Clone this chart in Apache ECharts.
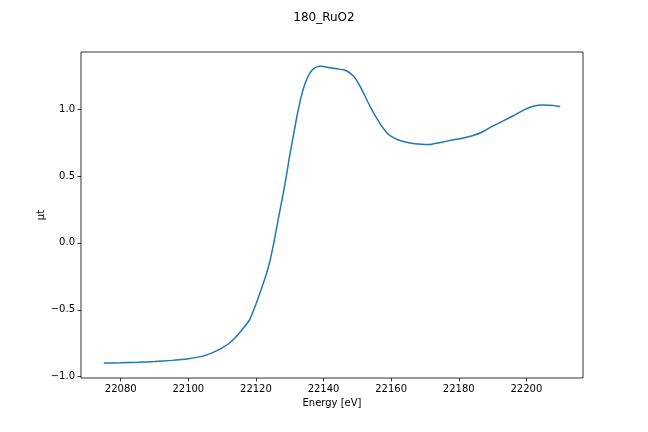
<!DOCTYPE html>
<html>
<head>
<meta charset="utf-8">
<script src="https://cdn.jsdelivr.net/npm/echarts@6/dist/echarts.min.js"></script>
<style>
  html, body { margin: 0; padding: 0; background: #fff; }
  #chart { width: 648px; height: 432px; }
</style>
</head>
<body>
<div id="chart"></div>
<script>
// energy [eV] and absorption
var energy = [22075, 22080, 22085, 22090, 22095, 22100, 22104, 22107, 22110, 22112,
  22114, 22116, 22118, 22119, 22120, 22121, 22122, 22123, 22124, 22125, 22126,
  22127, 22128, 22129, 22130, 22131, 22132, 22133, 22134, 22135, 22136,
  22137, 22138, 22139, 22140, 22142, 22144, 22146, 22147, 22148, 22149,
  22150, 22151, 22152, 22153, 22154, 22155, 22156, 22157, 22158, 22159,
  22160, 22162, 22164, 22166, 22168, 22170, 22172, 22175, 22178, 22181,
  22184, 22187, 22190, 22193, 22196, 22199, 22202, 22205, 22208, 22210];
var mut = [-0.898, -0.896, -0.892, -0.887, -0.878, -0.865, -0.848, -0.822, -0.785, -0.752,
  -0.705, -0.645, -0.580, -0.522, -0.458, -0.388, -0.315, -0.240, -0.150, -0.035, 0.095,
  0.230, 0.360, 0.500, 0.655, 0.790, 0.930, 1.050, 1.150, 1.220, 1.270,
  1.300, 1.315, 1.320, 1.318, 1.308, 1.300, 1.293, 1.282, 1.265, 1.242,
  1.205, 1.160, 1.110, 1.058, 1.008, 0.962, 0.920, 0.880, 0.845, 0.815,
  0.795, 0.770, 0.755, 0.745, 0.738, 0.735, 0.737, 0.752, 0.768, 0.782,
  0.800, 0.828, 0.872, 0.910, 0.948, 0.990, 1.020, 1.030, 1.027, 1.018];
var xTicks = [22080, 22100, 22120, 22140, 22160, 22180, 22200];
var yTicks = [-1.0, -0.5, 0.0, 0.5, 1.0];

var font = 'DejaVu Sans';
var chart = echarts.init(document.getElementById('chart'));

var pts = [];
for (var i = 0; i < energy.length; i++) {
  pts.push([energy[i], mut[i]]);
}

chart.setOption({
  animation: false,
  backgroundColor: '#ffffff',
  title: {
    text: '180_RuO2',
    left: 'center',
    top: 7,
    textStyle: { fontFamily: font, fontSize: 12, fontWeight: 'normal', color: '#000' }
  },
  grid: {
    left: 81, right: 65, top: 52, bottom: 54,
    show: true, borderColor: '#000', borderWidth: 0.8
  },
  xAxis: {
    type: 'value',
    min: 22068.25,
    max: 22216.75,
    name: 'Energy [eV]',
    nameLocation: 'middle',
    nameGap: 20,
    nameMoveOverlap: false,
    nameTextStyle: { fontFamily: font, fontSize: 10, color: '#000' },
    axisLine: { show: false, onZero: false },
    axisTick: { show: true, length: 3.5, customValues: xTicks, lineStyle: { color: '#000', width: 0.8 } },
    axisLabel: {
      margin: 6, customValues: xTicks, fontFamily: font, fontSize: 10, color: '#000',
      formatter: function (v) { return String(v); }
    },
    splitLine: { show: false }
  },
  yAxis: {
    type: 'value',
    min: -1.0097,
    max: 1.426,
    name: 'μt',
    nameLocation: 'middle',
    nameGap: 35,
    nameMoveOverlap: false,
    nameTextStyle: { fontFamily: font, fontSize: 10, color: '#000' },
    axisLine: { show: false, onZero: false },
    axisTick: { show: true, length: 3.5, customValues: yTicks, lineStyle: { color: '#000', width: 0.8 } },
    axisLabel: {
      margin: 6, customValues: yTicks, fontFamily: font, fontSize: 10, color: '#000',
      formatter: function (v) { return v.toFixed(1).replace('-', '\u2212'); }
    },
    splitLine: { show: false }
  },
  series: [{
    type: 'line',
    data: pts,
    showSymbol: false,
    smooth: 0.2,
    lineStyle: { color: '#1f77b4', width: 1.5 },
    itemStyle: { color: '#1f77b4' }
  }]
});
</script>
</body>
</html>
